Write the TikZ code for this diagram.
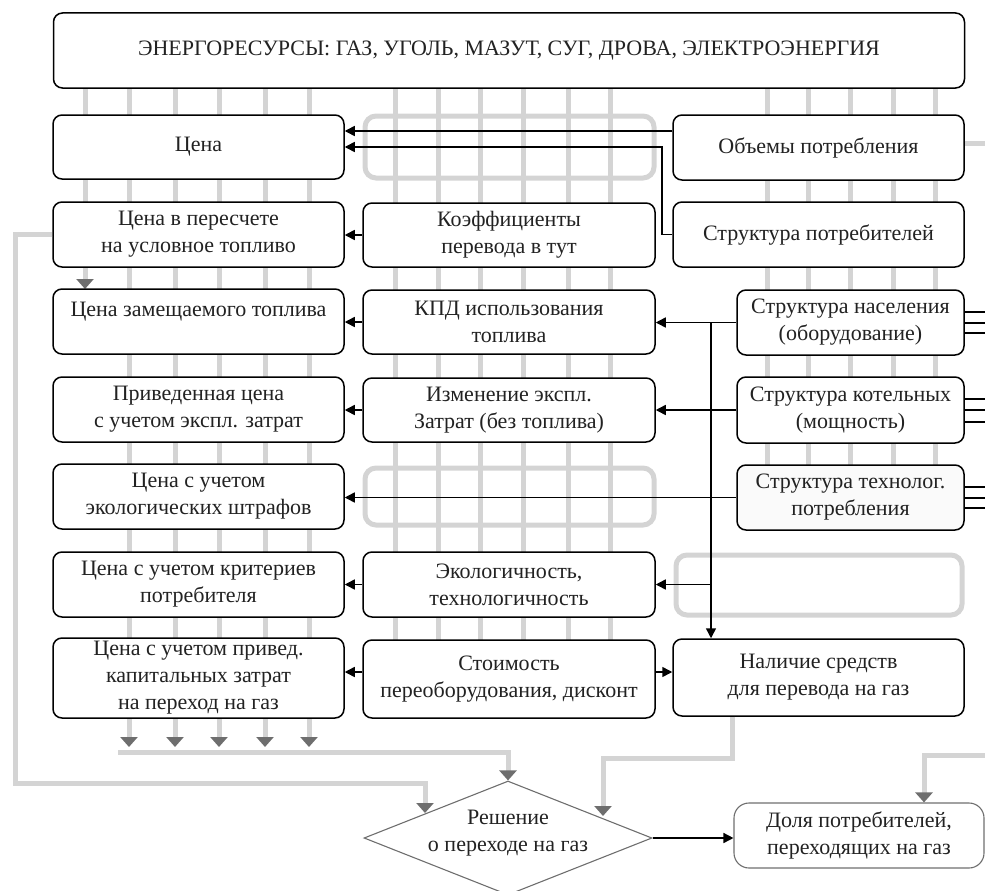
\documentclass[tikz,border=0pt]{standalone}
\usepackage{fontspec}
\setmainfont{Liberation Serif}
\usetikzlibrary{arrows.meta,shapes.geometric,calc}
\definecolor{lg}{HTML}{D4D4D4}
\definecolor{ag}{HTML}{6E6E6E}
\definecolor{txt}{HTML}{222222}
\newcommand\myfs{\fontsize{22}{27}\selectfont}
\tikzset{
  bx/.style={draw=black, line width=1.5pt, rounded corners=9pt, fill=white, align=center, inner sep=0pt, text=txt, font=\myfs},
  gl/.style={draw=lg, line width=5pt},
  gh/.style={draw=lg, line width=5pt, rounded corners=11pt},
  ga/.style={gl, -{Triangle[length=10pt,width=17pt,color=ag]}},
  bl/.style={draw=black, line width=1.5pt},
  ba/.style={bl, -{Triangle[length=10pt,width=10pt]}},
}
\begin{document}
\begin{tikzpicture}[x=1pt,y=-1pt]
\useasboundingbox (0,0) rectangle (985,891);
% grey background bundles
\foreach \x in {129,175,219,265,309}
  \draw[ga] (\x,88) -- (\x,747);
\draw[ga] (85,88) -- (85,289);
\foreach \x in {395,438,480,523,568,610}
  \draw[gl] (\x,88) -- (\x,660);
\foreach \x in {767,808,850,893,935}
  \draw[gl] (\x,88) -- (\x,500);
\draw[gh] (365,116) rectangle (654,178);
\draw[gh] (365,468) rectangle (654,525);
\draw[gh] (676,555) rectangle (962,615);
% top box
\node[bx, minimum width=911pt, minimum height=75pt] (top) at (509,50.5) {ЭНЕРГОРЕСУРСЫ: ГАЗ, УГОЛЬ, МАЗУТ, СУГ, ДРОВА, ЭЛЕКТРОЭНЕРГИЯ};
% left column
\node[bx, minimum width=291pt, minimum height=64pt] (cena) at (198.5,147) {Цена};
\node[bx, minimum width=291pt, minimum height=65pt] (pers) at (198.5,234.5) {Цена в пересчете\\на условное топливо};
\node[bx, minimum width=291pt, minimum height=65pt] (zam) at (198.5,321.5) {Цена замещаемого топлива\\[-10pt]\strut};
\node[bx, minimum width=291pt, minimum height=65pt] (priv) at (198.5,409.5) {Приведенная цена\\с учетом экспл. затрат};
\node[bx, minimum width=291pt, minimum height=65pt] (shtr) at (198.5,496.5) {Цена с учетом\\экологических штрафов};
\node[bx, minimum width=291pt, minimum height=65pt] (krit) at (198.5,584.5) {Цена с учетом критериев\\потребителя};
\node[bx, minimum width=291pt, minimum height=80pt] (kap) at (198.5,678) {Цена с учетом привед.\\капитальных затрат\\на переход на газ};
% middle column
\node[bx, minimum width=292pt, minimum height=64pt] (koef) at (509,235) {Коэффициенты\\перевода в тут};
\node[bx, minimum width=292pt, minimum height=64pt] (kpd) at (509,322) {КПД использования\\топлива};
\node[bx, minimum width=292pt, minimum height=64pt] (izm) at (509,410) {Изменение экспл.\\Затрат (без топлива)};
\node[bx, minimum width=292pt, minimum height=65pt] (ekol) at (509,584.5) {Экологичность,\\технологичность};
\node[bx, minimum width=292pt, minimum height=78pt] (stoim) at (509,679) {Стоимость\\переоборудования, дисконт};
% right column
\node[bx, minimum width=291pt, minimum height=65pt] (obem) at (818.5,147.5) {Объемы потребления};
\node[bx, minimum width=291pt, minimum height=65pt] (strp) at (818.5,234.5) {Структура потребителей};
\node[bx, minimum width=227pt, minimum height=65pt] (nas) at (850.5,322.5) {Структура населения\\(оборудование)};
\node[bx, minimum width=227pt, minimum height=66pt] (kot) at (850.5,410) {Структура котельных\\(мощность)};
\node[bx, minimum width=227pt, minimum height=65pt, fill=black!2] (tech) at (850.5,497.5) {Структура технолог.\\потребления};
\node[bx, minimum width=291pt, minimum height=77pt] (nal) at (818.5,677.5) {Наличие средств\\для перевода на газ};
% bottom
\node[draw=ag, line width=1.1pt, shape=diamond, minimum width=288pt, minimum height=114pt, inner sep=0pt,
      label={[font=\myfs, text=txt, align=center, yshift=5pt]center:Решение\\о переходе на газ}] (dia) at (508,838) {};
\node[draw=ag, line width=1.1pt, rounded corners=15pt, minimum width=250pt, minimum height=65pt, inner sep=0pt,
      align=center, font=\myfs, text=txt] (dolya) at (859,835.5) {Доля потребителей,\\переходящих на газ};
% grey connectors
\draw[ga] (118,752) -- (dia.north |- 0,752) -- (dia.north);
\draw[ga] (pers.west) -- (15,234.5) -- (15,783) -- (425,783) -- (425,813);
\draw[ga] (nal.south -| 732,0) -- (732,758) -- (603,758) -- (603,816);
\draw[ga] (985,755) -- (924,755) -- (dolya.north -| 924,0);
\draw[gl] (obem.east |- 0,143) -- (985,143);
% black connectors
\draw[ba] (obem.west |- 0,131) -- (cena.east |- 0,131);
\draw[ba] (strp.west) -- (662,234.5) -- (662,147) -- (cena.east);
\draw[ba] (koef.west) -- (pers.east |- koef.west);
\draw[ba] (kpd.west) -- (zam.east |- kpd.west);
\draw[ba] (nas.west) -- (kpd.east |- nas.west);
\coordinate (j1) at (711,322.5);
\draw[ba] (j1) -- (j1 |- nal.north);
\draw[ba] (izm.west) -- (priv.east |- izm.west);
\draw[ba] (kot.west) -- (izm.east |- kot.west);
\draw[ba] (tech.west) -- (shtr.east |- tech.west);
\draw[ba] (ekol.west) -- (krit.east |- ekol.west);
\draw[ba] (j1 |- ekol.east) -- (ekol.east);
\draw[ba] (stoim.west |- 0,672) -- (kap.east |- 0,672);
\draw[ba] (stoim.east |- 0,672) -- (nal.west |- 0,672);
\draw[ba] (dia.east) -- (dolya.west |- dia.east);
\foreach \y in {312,323,333} \draw[bl] (nas.east |- 0,\y) -- (985,\y);
\foreach \y in {399,410,422} \draw[bl] (kot.east |- 0,\y) -- (985,\y);
\foreach \y in {487,498,508} \draw[bl] (tech.east |- 0,\y) -- (985,\y);
\end{tikzpicture}
\end{document}
